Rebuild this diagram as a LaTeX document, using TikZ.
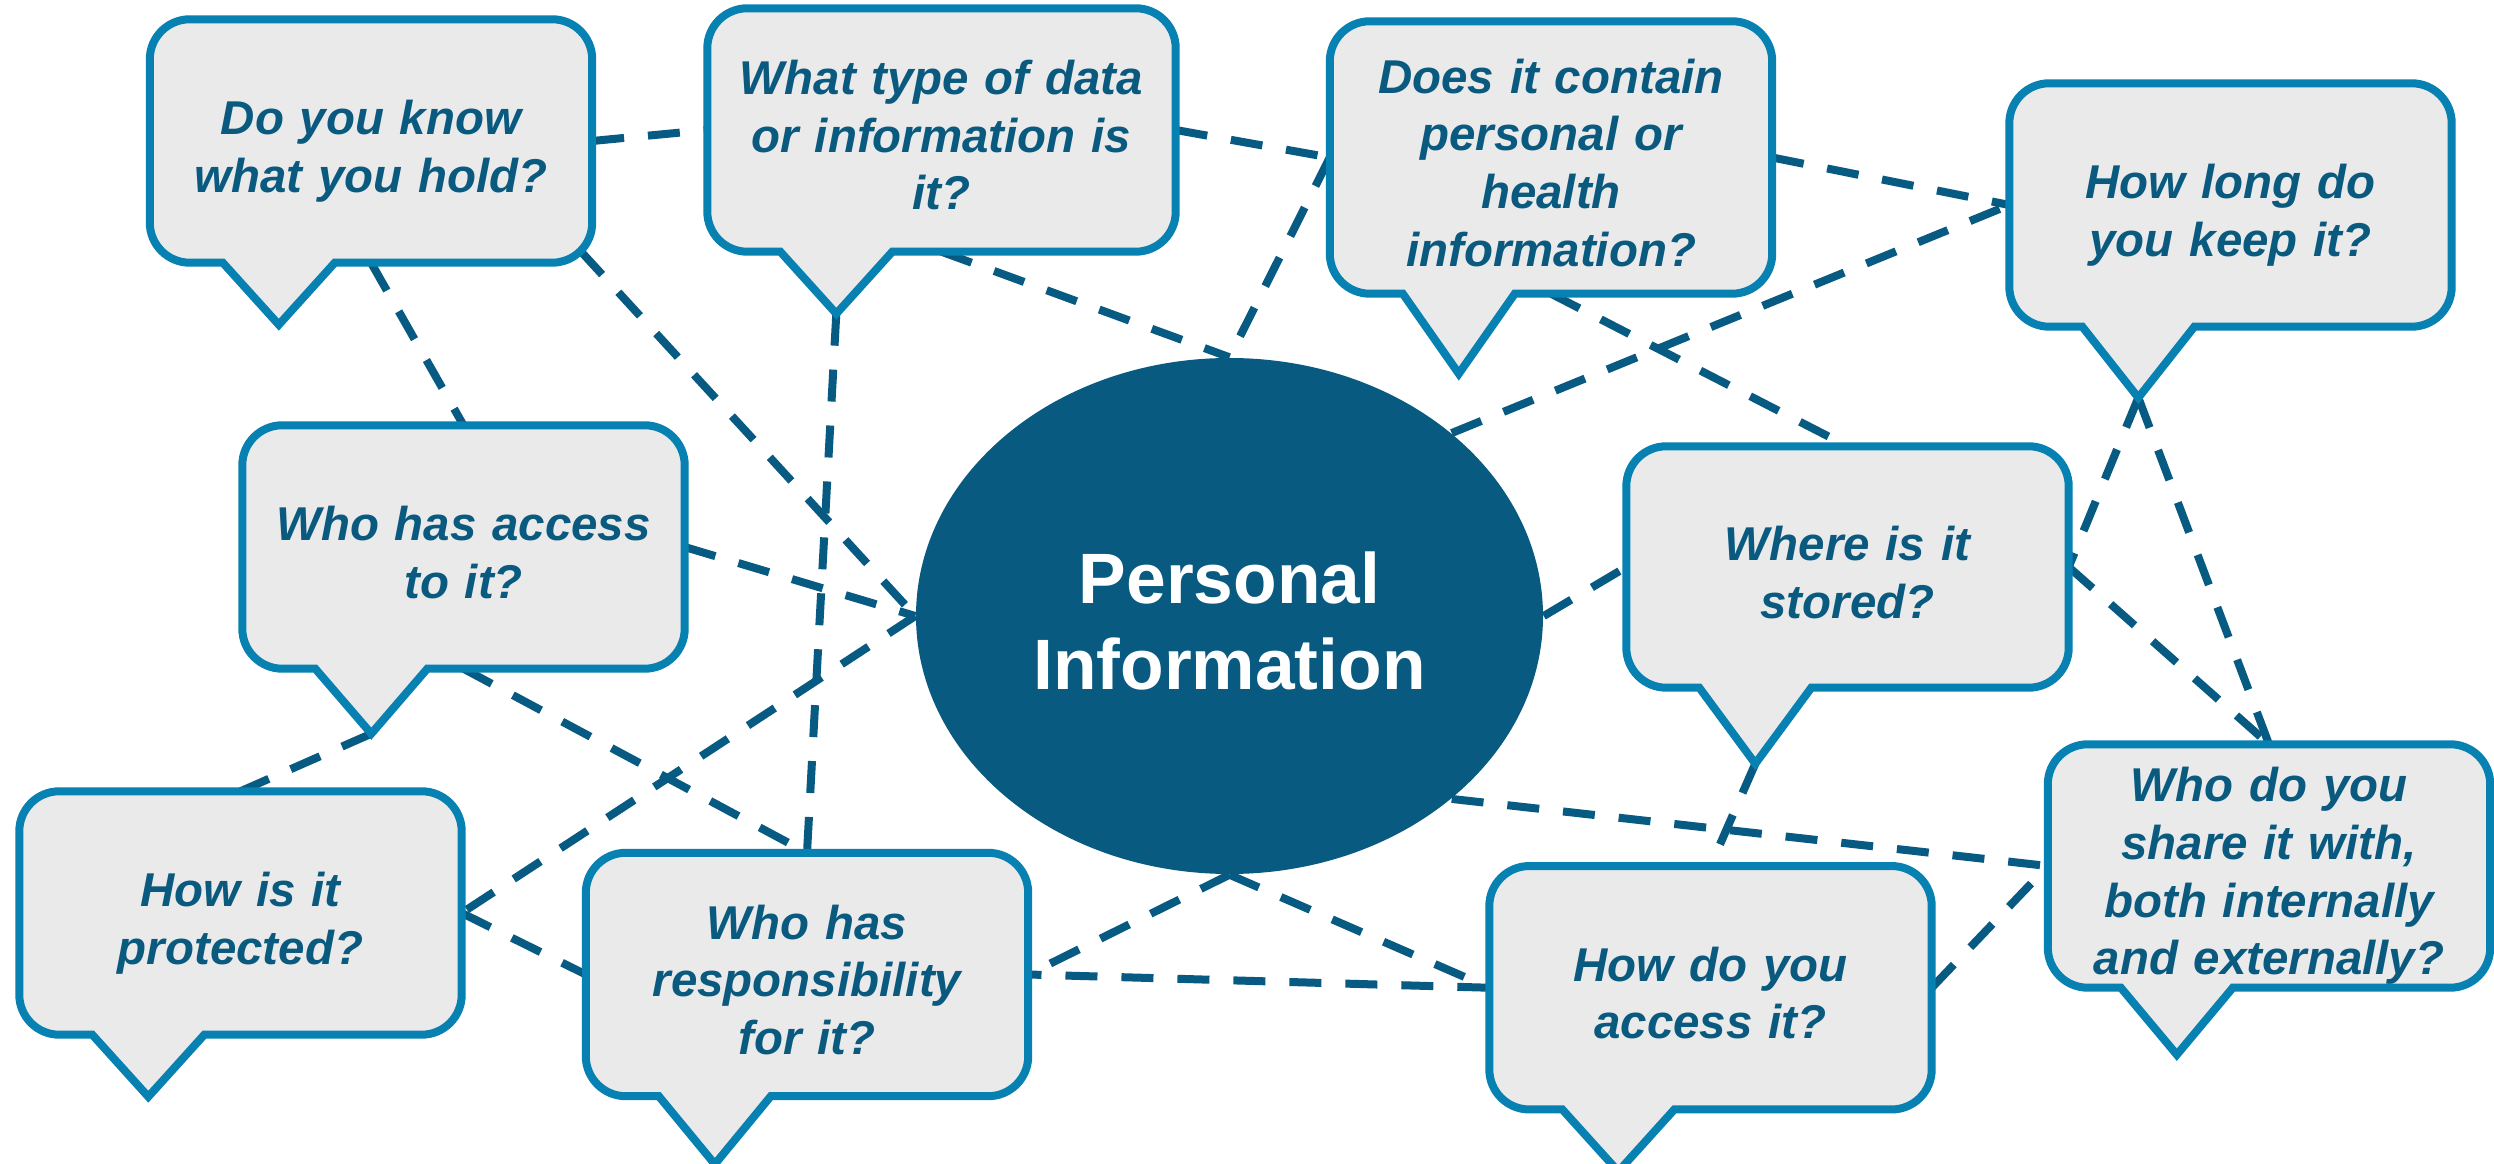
\documentclass[tikz,border=0pt]{standalone}
\usepackage{fontspec}
\setmainfont{Liberation Sans}
\usetikzlibrary{calc,shapes.geometric,backgrounds}

\definecolor{lineblue}{HTML}{075A81}
\definecolor{edgeblue}{HTML}{0681B1}
\definecolor{bubblegray}{HTML}{EAEAEA}
\definecolor{coreblue}{HTML}{085A80}
\definecolor{textblue}{HTML}{0A5A80}

\pgfdeclarelayer{bubbles}
\pgfsetlayers{background,bubbles,main}

\newcommand\bubbletop{\rule{0pt}{15.8pt}}
\newcommand\bubblebot{\rule[-3.1pt]{0pt}{3.1pt}}
\newcommand\coretop{\rule{0pt}{18.3pt}}
\newcommand\corebot{\rule[-1pt]{0pt}{1pt}}

\tikzset{
    bubble/.style={rectangle, inner sep=0pt,
        minimum width=4.41cm, minimum height=2.42cm, % size of the box without its tail
        text width=4.2cm, align=center, text=textblue,
        font=\bfseries\itshape\fontsize{13.5}{16.4}\selectfont},
    bubble line/.style={draw=edgeblue, fill=bubblegray, line width=0.08cm, line join=miter},
    link/.style={draw=lineblue, line width=0.08cm, dash pattern=on 0.32cm off 0.24cm}, % the dashed connectors
    core/.style={ellipse, fill=coreblue, text=white, inner sep=0pt,
        minimum width=6.27cm, minimum height=5.16cm,
        align=center, font=\bfseries\fontsize{20.3}{24.6}\selectfont},
}

% #1 extra options, #2 name, #3 position, #4 depth of the tail, #5 text
\newcommand\bubble[5][]{%
  \node[bubble,#1] (#2) at (#3) {\bubbletop#5\bubblebot};
  \begin{pgfonlayer}{bubbles}
    \path[bubble line] ([xshift=0.73cm]#2.south west) -- ++(0.56,-#4) coordinate (#2-tip) -- ++(0.56,#4)
      -- ([xshift=-0.4cm]#2.south east) arc[start angle=270, end angle=315, radius=0.4cm] coordinate (#2-se)
      arc[start angle=315, end angle=360, radius=0.4cm]
      -- ([yshift=-0.4cm]#2.north east) arc[start angle=0, end angle=90, radius=0.4cm]
      -- ([xshift=0.4cm]#2.north west) arc[start angle=90, end angle=180, radius=0.4cm]
      -- ([yshift=0.4cm]#2.south west) arc[start angle=180, end angle=270, radius=0.4cm]
      -- cycle;
  \end{pgfonlayer}}

\begin{document}
\begin{tikzpicture}[]
  \useasboundingbox (0,0) rectangle (24.94,11.63);
  \begin{pgfonlayer}{background}
    \fill[white] (0,0) rectangle (24.94,11.63);
  \end{pgfonlayer}

  \node[core] (info) at (12.295,5.47) {\coretop Personal\\Information\corebot};

  \bubble{hold}{3.71,10.22}{0.62}{Do you know\\what you hold?}
  \bubble[minimum width=4.67cm]{kind}{9.415,10.33}{0.62}{What type of data\\or information is\\it?}
  \bubble[minimum height=2.71cm]{health}{15.51,10.055}{0.80}{Does it contain\\personal or\\health\\information?}
  \bubble{keep}{22.305,9.58}{0.71}{How long do\\you keep it?}
  \bubble[minimum height=2.40cm]{where}{18.475,5.96}{0.76}{Where is it\\stored?}
  \bubble{who}{4.635,6.16}{0.65}{Who has access\\to it?}
  \bubble{protect}{2.405,2.50}{0.62}{How is it\\protected?}
  \bubble{resp}{8.07,1.885}{0.68}{Who has\\responsibility\\for it?}
  \bubble{howto}{17.105,1.7525}{0.62}{How do you\\access it?}
  \bubble{share}{22.69,2.97}{0.67}{Who do you\\share it with,\\both internally\\and externally?}

  \begin{pgfonlayer}{background}
  \path[link]
    (hold.east)       edge (kind.west)
    (hold.south)      edge (who.north)
    (hold-se)         edge (info.west)
    (kind.east)       edge (health.west)
    (kind.south)      edge (info.north)
    (kind-tip)        edge (resp.north)
    (health.west)     edge (info.north)
    (health.east)     edge (keep.west)
    (health.south)    edge (where.north)
    (info.north east) edge (keep.west)
    (keep-tip)        edge (where.east)
                      edge (share.north)
    (where.east)      edge (share.north)
    (info.east)       edge (where.west)
    (where-tip)       edge (howto.north)
    (info.south east) edge (share.west)
    (howto.east)      edge (share.west)
    (howto.west)      edge (resp.east)
    (info.south)      edge (howto.west)
                      edge (resp.east)
    (who.east)        edge (info.west)
    (who-tip)         edge (protect.north)
    (who.south)       edge (resp.north)
    (info.west)       edge (protect.east)
    (protect.east)    edge (resp.west);
  \end{pgfonlayer}
\end{tikzpicture}
\end{document}
